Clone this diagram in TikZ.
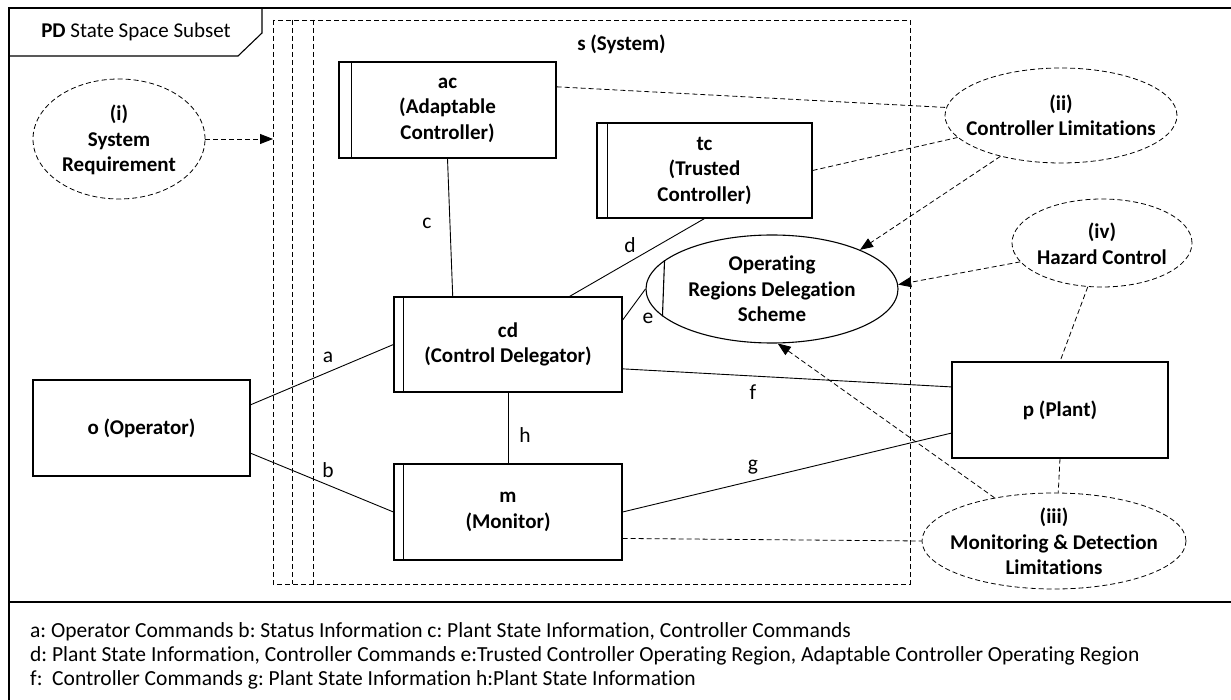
\documentclass[tikz,border=0pt]{standalone}
\usepackage{fontspec}
\setmainfont{Carlito}[Ligatures={NoCommon}]
\usetikzlibrary{arrows.meta,shapes.geometric}

\begin{document}
\begin{tikzpicture}[x=1pt,y=-1pt,
  lbl/.style={font=\fontsize{21}{25.5}\selectfont\bfseries, align=center, inner sep=0pt},
  tag/.style={font=\fontsize{21.5}{25}\selectfont, inner sep=0pt},
  legend/.style={font=\fontsize{21.5}{24}\selectfont\frenchspacing, inner sep=0pt, anchor=base west},
  unit/.style={draw, line width=1.1pt, rectangle, minimum height=96pt, inner sep=0pt, lbl},
  oval/.style={draw, ellipse, line width=1.1pt, inner sep=0pt},
  dashedoval/.style={draw, ellipse, line width=0.8pt, inner sep=0pt, dash pattern=on 5pt off 3pt},
  link/.style={line width=0.9pt},
  dlink/.style={line width=0.8pt, dash pattern=on 5pt off 3pt},
  arr/.style={-{Triangle[length=13pt,width=10pt]}},
  frame/.style={line width=1.1pt}
]
\useasboundingbox (0,0) rectangle (1231,700);
\clip (0,0) rectangle (1231,700);
\fill[white] (0,0) rectangle (1231,700);

% outer frame, header tab and legend separator
\draw[frame] (9,720) -- (9,8) -- (1250,8);
\draw[frame] (9,56) -- (238,56) -- (262,33) -- (262,8);
\draw[frame] (9,602) -- (1250,602);
\node[font=\fontsize{21}{25}\selectfont, inner sep=0pt] (hdr) at (136,32) {\textbf{PD} State Space Subset};

% system boundary
\draw[dlink] (273,20) rectangle (910,584);
\draw[dlink] (292,20) -- (292,584);
\draw[dlink] (313,20) -- (313,584);
\node[lbl] (sys) at (621.5,44) {s (System)};
\coordinate (sysL) at (273,139);

% components
\node[unit, minimum width=217pt] (ac) at (447.5,110) {ac\\(Adaptable\\Controller)};
\node[unit, minimum width=215pt, minimum height=95pt] (tc) at (704.5,170.5) {tc\\(Trusted\\Controller)};
\node[unit, minimum width=228pt, minimum height=95pt] (cd) at (508,344.5) {cd\\(Control Delegator)};
\node[unit, minimum width=228pt] (m) at (508,512) {m\\(Monitor)};
\node[unit, minimum width=217pt] (o) at (141.5,428) {o (Operator)};
\node[unit, minimum width=216pt] (p) at (1060,410) {p (Plant)};

\draw[line width=1.1pt] ([xshift=13pt]ac.north west) -- ([xshift=13pt]ac.south west);
\draw[line width=1.1pt] ([xshift=11pt]tc.north west) -- ([xshift=11pt]tc.south west);
\draw[line width=1.1pt] ([xshift=10pt]cd.north west) -- ([xshift=10pt]cd.south west);
\draw[line width=1.1pt] ([xshift=10pt]m.north west) -- ([xshift=10pt]m.south west);

% delegation scheme
\node[oval, minimum width=252pt, minimum height=108pt] (ords) at (772,289) {};
\node[lbl] (ordsT) at (772,289) {Operating\\Regions Delegation\\Scheme};
\draw[line width=1.1pt] (ords.165.6) -- (ords.194.4);

% concerns
\node[dashedoval, minimum width=172pt, minimum height=120pt] (req) at (119,139) {};
\node[lbl] (reqT) at (119,140) {(i)\\System\\Requirement};
\node[dashedoval, minimum width=232pt, minimum height=95pt] (lim) at (1061,115.5) {};
\node[lbl] (limT) at (1061,115.5) {(ii)\\Controller Limitations};
\node[dashedoval, minimum width=180pt, minimum height=88pt] (haz) at (1102,243) {};
\node[lbl] (hazT) at (1102,244) {(iv)\\Hazard Control};
\node[dashedoval, minimum width=264pt, minimum height=96pt] (mon) at (1054,541) {};
\node[lbl] (monT) at (1054,541.5) {(iii)\\Monitoring \& Detection\\Limitations};

% solid interfaces
\draw[link] (o.12.5) -- (cd.west);
\draw[link] (o.347.5) -- (m.west);
\draw[link] (ac.south) -- (cd.139.7);
\draw[link] (cd.38.8) -- (tc.south);
\draw[link] (cd.12.1) -- (ords.west);
\draw[link] (cd.348.4) -- (p.168);
\draw[link] (m.east) -- (p.192.5);
\draw[link] (cd.south) -- (m.north);

% dashed relations
\draw[dlink,arr] (req.east) -- (sysL);
\draw[dlink] (ac.12.5) -- (lim.176);
\draw[dlink] (tc.east) -- (lim.192.4);
\draw[dlink,arr] (lim.214.7) -- (ords.24);
\draw[dlink,arr] (haz.193.4) -- (ords.2);
\draw[dlink] (haz.252) -- (p.north);
\draw[dlink] (p.south) -- (mon.85);
\draw[dlink,arr] (mon.144) -- (ords.276);
\draw[dlink] (m.347.6) -- (mon.west);

% interface tags
\node[tag] (ta) at (328,357) {a};
\node[tag] (tb) at (328,470) {b};
\node[tag] (tcc) at (427,223) {c};
\node[tag] (td) at (630,245) {d};
\node[tag] (te) at (648,318) {e};
\node[tag] (tf) at (753,392) {f};
\node[tag] (tg) at (753,467) {g};
\node[tag] (th) at (525,435) {h};

% legend
\node[legend] (leg1) at (30,637.5) {a: Operator Commands b: Status Information c: Plant State Information, Controller Commands};
\node[legend] (leg2) at (30,661.5) {d: Plant State Information, Controller Commands e:Trusted Controller Operating Region, Adaptable Controller Operating Region};
\node[legend] (leg3) at (30,685.5) {f:\ \ Controller Commands g: Plant State Information h:Plant State Information};
\end{tikzpicture}
\end{document}
